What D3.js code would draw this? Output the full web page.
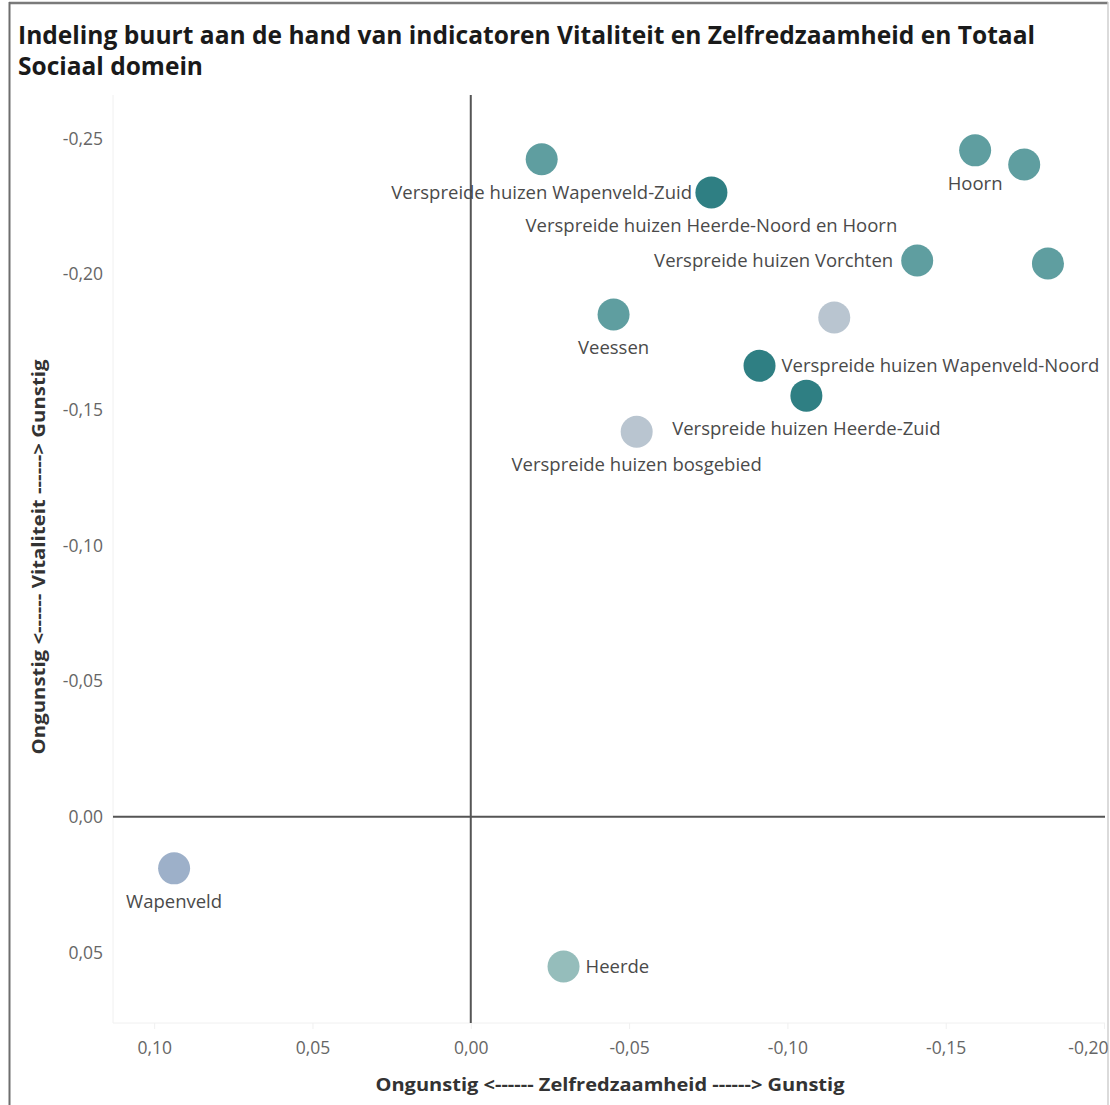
<!DOCTYPE html>
<html>
<head>
<meta charset="utf-8">
<script src="https://cdn.jsdelivr.net/npm/d3@7"></script>
<style>
  html, body { margin: 0; padding: 0; background: #fff; }
  svg { display: block; }
</style>
</head>
<body>
<svg id="chart" width="1110" height="1105"></svg>
<script>
// ---- Data ----
const titleLines = ["Indeling buurt aan de hand van indicatoren Vitaliteit en Zelfredzaamheid en Totaal", "Sociaal domein"];
const xAxisTitle = "Ongunstig <------ Zelfredzaamheid ------> Gunstig";
const yAxisTitle = "Ongunstig <------ Vitaliteit ------> Gunstig";
const xTicks = [0.10, 0.05, 0.00, -0.05, -0.10, -0.15, -0.20];
const yTicks = [-0.25, -0.20, -0.15, -0.10, -0.05, 0.00, 0.05];

const names = ["Verspreide huizen Wapenveld-Zuid", "Verspreide huizen Heerde-Noord en Hoorn", "Hoorn", "", "Verspreide huizen Vorchten", "", "Veessen", "", "Verspreide huizen Wapenveld-Noord", "Verspreide huizen Heerde-Zuid", "Verspreide huizen bosgebied", "Wapenveld", "Heerde"];
const zelfredzaamheid = [-0.0224, -0.0760, -0.1593, -0.1748, -0.1410, -0.1823, -0.0451, -0.1148, -0.0912, -0.1060, -0.0524, 0.0937, -0.0293];
const vitaliteit = [-0.2423, -0.2301, -0.2456, -0.2404, -0.2050, -0.2039, -0.1851, -0.1840, -0.1662, -0.1552, -0.1419, 0.0190, 0.0552];
const colorGroup = ["mid", "dark", "mid", "mid", "mid", "mid", "mid", "grey", "dark", "dark", "grey", "blue", "light"];
const labelPos = ["below", "below", "below", "none", "left", "none", "below", "none", "right", "below", "below", "below", "right"];

// ---- Styles ----
const palette = { mid: "#5f9ea0", dark: "#2f7f83", grey: "#b9c5d0", blue: "#9db0c9", light: "#95bdbb" };
const W = 1110, H = 1105;
const plot = { left: 113, right: 1105, top: 95, bottom: 1023 };
const fontMain = "'Segoe UI', 'Open Sans', 'Noto Sans', sans-serif";

const svg = d3.select("#chart");

// frame
svg.append("line").attr("x1", 9).attr("x2", 1108).attr("y1", 3).attr("y2", 3)
  .attr("stroke", "#7a7a7a").attr("stroke-width", 2.5);
svg.append("line").attr("x1", 9.5).attr("x2", 9.5).attr("y1", 2).attr("y2", H)
  .attr("stroke", "#6e6e6e").attr("stroke-width", 2);
svg.append("line").attr("x1", 1108).attr("x2", 1108).attr("y1", 2).attr("y2", H)
  .attr("stroke", "#cfcfcf").attr("stroke-width", 1.5);

// title
svg.append("g").selectAll("text").data(titleLines).join("text")
  .attr("x", 18).attr("y", (d, i) => 44 + i * 31)
  .attr("font-family", fontMain).attr("font-weight", 700).attr("font-size", 24.5)
  .attr("fill", "#1a1a1a")
  .attr("textLength", (d, i) => i === 0 ? 1017 : null)
  .attr("lengthAdjust", "spacingAndGlyphs")
  .text(d => d);

// scales
const x = d3.scaleLinear().domain([0.113, -0.2]).range([plot.left, 1104]);
const y = d3.scaleLinear().domain([-0.266, 0.076]).range([plot.top, plot.bottom]);
const fmt = v => d3.format(".2f")(v).replace("−", "-").replace(".", ",");

// faint plot edges
svg.append("line").attr("x1", plot.left).attr("x2", plot.left).attr("y1", plot.top).attr("y2", plot.bottom)
  .attr("stroke", "#f0f0f0").attr("stroke-width", 1);
svg.append("line").attr("x1", plot.left).attr("x2", plot.right).attr("y1", plot.bottom).attr("y2", plot.bottom)
  .attr("stroke", "#f0f0f0").attr("stroke-width", 1);

// x axis
const xAxis = d3.axisBottom(x).tickValues(xTicks).tickFormat(fmt).tickSize(6).tickPadding(13);
const gx = svg.append("g").attr("transform", `translate(0,${plot.bottom})`).call(xAxis);
gx.select(".domain").remove();
gx.selectAll(".tick line").attr("stroke", "#f0f0f0");
gx.selectAll(".tick text").attr("font-family", fontMain).attr("font-size", 17.5).attr("fill", "#666");
gx.selectAll(".tick").filter(d => d === -0.20).select("text").attr("text-anchor", "end").attr("dx", 4);

// y axis
const yAxis = d3.axisLeft(y).tickValues(yTicks).tickFormat(fmt).tickSize(0).tickPadding(10);
const gy = svg.append("g").attr("transform", `translate(${plot.left},0)`).call(yAxis);
gy.select(".domain").remove();
gy.selectAll(".tick text").attr("font-family", fontMain).attr("font-size", 17.5).attr("fill", "#666");

// zero lines
svg.append("line").attr("x1", x(0)).attr("x2", x(0)).attr("y1", plot.top).attr("y2", plot.bottom)
  .attr("stroke", "#555").attr("stroke-width", 2);
svg.append("line").attr("x1", plot.left).attr("x2", plot.right).attr("y1", y(0)).attr("y2", y(0))
  .attr("stroke", "#555").attr("stroke-width", 2);

// axis titles
svg.append("text").attr("x", 610).attr("y", 1091).attr("text-anchor", "middle")
  .attr("font-family", fontMain).attr("font-weight", 700).attr("font-size", 18).attr("fill", "#333")
  .attr("textLength", 469).attr("lengthAdjust", "spacingAndGlyphs")
  .text(xAxisTitle);
svg.append("text").attr("transform", `translate(45,557) rotate(-90)`).attr("text-anchor", "middle")
  .attr("font-family", fontMain).attr("font-weight", 700).attr("font-size", 18).attr("fill", "#333")
  .attr("textLength", 395).attr("lengthAdjust", "spacingAndGlyphs")
  .text(yAxisTitle);

// points
const pts = names.map((n, i) => ({ name: n, x: zelfredzaamheid[i], y: vitaliteit[i], c: colorGroup[i], pos: labelPos[i] }));
const r = 16;
svg.append("g").selectAll("circle").data(pts).join("circle")
  .attr("cx", d => x(d.x)).attr("cy", d => y(d.y)).attr("r", r)
  .attr("fill", d => palette[d.c]);

// labels
svg.append("g").selectAll("text").data(pts.filter(d => d.pos !== "none")).join("text")
  .attr("x", d => x(d.x) + (d.pos === "left" ? -(r + 8) : d.pos === "right" ? (r + 6) : 0))
  .attr("y", d => y(d.y) + (d.pos === "below" ? 33 : 0))
  .attr("dy", "0.35em")
  .attr("text-anchor", d => d.pos === "left" ? "end" : d.pos === "right" ? "start" : "middle")
  .attr("font-family", fontMain).attr("font-size", 18.5).attr("fill", "#4a4a4a")
  .text(d => d.name);
</script>
</body>
</html>
